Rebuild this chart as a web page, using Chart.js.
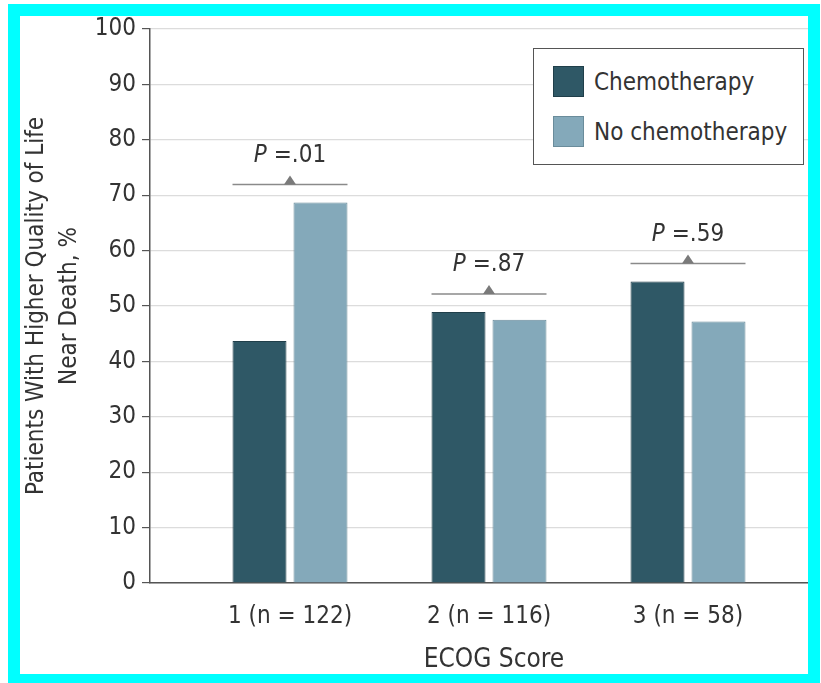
<!DOCTYPE html>
<html lang="en">
<head>
    <meta charset="UTF-8">
    <title>ECOG Score Chart</title>
    <script src="https://cdn.jsdelivr.net/npm/chart.js"></script>
    <style>
        body {
            margin: 0;
            background: #fff;
            font-family: 'DejaVu Sans Condensed', 'DejaVu Sans', sans-serif;
            color: #333;
        }

        #frame {
            position: absolute;
            left: 8px;
            top: 4px;
            width: 788px;
            height: 658px;
            border: 12px solid #00ffff;
            border-bottom-width: 9px;
            background: #fff;
        }

        #chart {
            position: absolute;
            left: 0;
            top: -8px;
        }

        #legend {
            position: absolute;
            left: 513px;
            top: 32px;
            width: 269px;
            height: 115px;
            border: 1px solid #555;
            background: #fff;
        }

        .item {
            position: absolute;
            left: 19px;
            display: flex;
            align-items: center;
            font-size: 24px;
            color: #333;
        }

        .swatch {
            width: 29px;
            height: 29px;
            margin-right: 10px;
            border: 1px solid;
        }
    </style>
</head>
<body>
    <div id="frame">
        <canvas id="chart" width="788" height="666"></canvas>
        <div id="legend"></div>
    </div>

    <script>
        // data
        const categories = ['1 (n = 122)', '2 (n = 116)', '3 (n = 58)'];
        const chemo = [43.7, 48.9, 54.4];
        const noChemo = [68.7, 47.5, 47.2];
        const pValues = ['.01', '.87', '.59'];
        const seriesNames = ['Chemotherapy', 'No chemotherapy'];
        const yTicks = [0, 10, 20, 30, 40, 50, 60, 70, 80, 90, 100];

        const fills = ['#2f5866', '#84a9ba'];
        const borders = ['#203f4a', '#6a8c9b'];
        const fontFamily = "'DejaVu Sans Condensed', 'DejaVu Sans', sans-serif";

        Chart.defaults.font.family = fontFamily;
        Chart.defaults.color = '#333';

        // P value brackets and x title
        const notes = {
            id: 'notes',
            afterDatasetsDraw(chart) {
                const ctx = chart.ctx;
                const x = chart.scales.x;
                ctx.save();
                pValues.forEach((p, i) => {
                    const a = chart.getDatasetMeta(0).data[i];
                    const b = chart.getDatasetMeta(1).data[i];
                    const left = a.x - a.width / 2;
                    const right = b.x + b.width / 2;
                    const top = Math.min(a.y, b.y) - 18;
                    const cx = x.getPixelForValue(i + 1);

                    ctx.strokeStyle = '#8a8a8a';
                    ctx.lineWidth = 1.5;
                    ctx.beginPath();
                    ctx.moveTo(left, top);
                    ctx.lineTo(right, top);
                    ctx.stroke();

                    ctx.fillStyle = '#7a7a7a';
                    ctx.beginPath();
                    ctx.moveTo(cx, top - 9);
                    ctx.lineTo(cx - 6, top);
                    ctx.lineTo(cx + 6, top);
                    ctx.closePath();
                    ctx.fill();

                    // italic P, then the value
                    const rest = ' =' + p;
                    ctx.font = 'italic 24px ' + fontFamily;
                    const wP = ctx.measureText('P').width;
                    ctx.font = '24px ' + fontFamily;
                    const wR = ctx.measureText(rest).width;
                    const start = cx - (wP + wR) / 2;
                    ctx.fillStyle = '#333';
                    ctx.textBaseline = 'middle';
                    ctx.textAlign = 'left';
                    ctx.font = 'italic 24px ' + fontFamily;
                    ctx.fillText('P', start, top - 29);
                    ctx.font = '24px ' + fontFamily;
                    ctx.fillText(rest, start + wP, top - 29);
                });

                ctx.font = '26px ' + fontFamily;
                ctx.textAlign = 'center';
                ctx.textBaseline = 'middle';
                ctx.fillStyle = '#333';
                ctx.fillText('ECOG Score', x.getPixelForValue(2) + 5, 652);
                ctx.restore();
            }
        };

        const chart = new Chart(document.getElementById('chart'), {
            type: 'bar',
            data: {
                datasets: [
                    {
                        label: seriesNames[0],
                        data: chemo.map((v, i) => ({ x: i + 1, y: v })),
                        backgroundColor: fills[0],
                        borderColor: borders[0],
                        borderWidth: 1
                    },
                    {
                        label: seriesNames[1],
                        data: noChemo.map((v, i) => ({ x: i + 1, y: v })),
                        backgroundColor: fills[1],
                        borderColor: borders[1],
                        borderWidth: 1
                    }
                ]
            },
            options: {
                responsive: false,
                animation: false,
                categoryPercentage: 0.613,
                barPercentage: 0.885,
                layout: { padding: { top: 21, right: 0, left: 0, bottom: 0 } },
                plugins: {
                    legend: { display: false },
                    tooltip: { enabled: false }
                },
                scales: {
                    x: {
                        type: 'linear',
                        offset: false,
                        min: 0.2965,
                        max: 3.603,
                        afterBuildTicks: (axis) => {
                            axis.ticks = categories.map((c, i) => ({ value: i + 1 }));
                        },
                        afterFit: (axis) => { axis.height = 91; },
                        grid: { display: false },
                        border: { display: true, color: '#555', width: 1.5 },
                        ticks: {
                            autoSkip: false,
                            maxRotation: 0,
                            padding: 11,
                            font: { size: 24 },
                            color: '#333',
                            callback: (v) => categories[v - 1]
                        }
                    },
                    y: {
                        min: 0,
                        max: 100,
                        afterBuildTicks: (axis) => {
                            axis.ticks = yTicks.map(v => ({ value: v }));
                        },
                        afterFit: (axis) => { axis.width = 130; },
                        grid: {
                            color: '#dcdcdc',
                            tickColor: '#555',
                            tickLength: 8,
                            lineWidth: 1.2
                        },
                        border: { display: true, color: '#555', width: 1.5 },
                        ticks: {
                            padding: 6,
                            font: { size: 24 },
                            color: '#333'
                        },
                        title: {
                            display: true,
                            text: ['Patients With Higher Quality of Life', 'Near Death, %'],
                            font: { size: 24, lineHeight: 1.375 },
                            color: '#333',
                            padding: { top: 0, bottom: 0 }
                        }
                    }
                }
            },
            plugins: [notes]
        });

        // legend box
        const legend = document.getElementById('legend');
        seriesNames.forEach((name, i) => {
            const item = document.createElement('div');
            item.className = 'item';
            item.style.top = (17 + i * 50) + 'px';
            item.innerHTML = '<div class="swatch" style="background:' + fills[i] +
                ';border-color:' + borders[i] + '"></div><span>' + name + '</span>';
            legend.appendChild(item);
        });
    </script>
</body>
</html>
